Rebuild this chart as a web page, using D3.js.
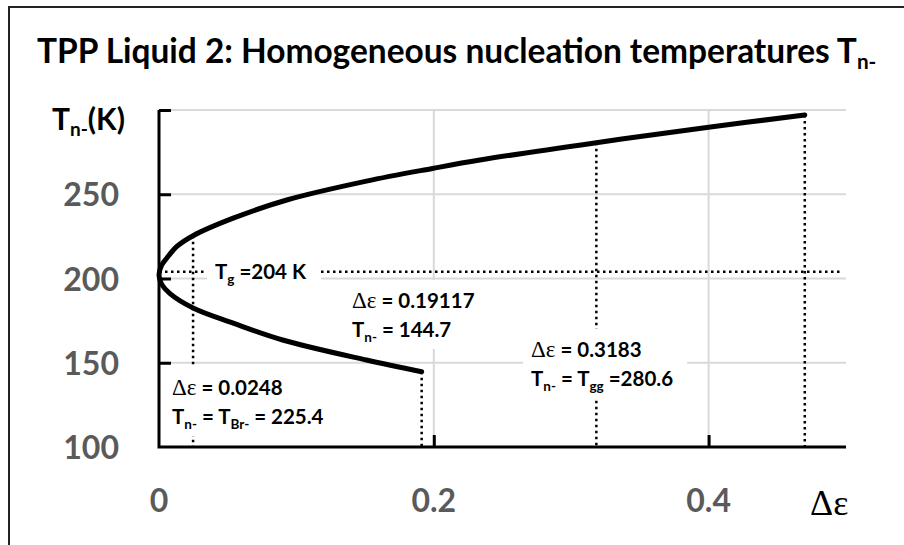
<!DOCTYPE html>
<html>
<head>
<meta charset="utf-8">
<script src="https://cdn.jsdelivr.net/npm/d3@7"></script>
<style>
  body { margin: 0; background: #fff; }
</style>
</head>
<body>
<div id="chart"></div>
<script>
// curve, ordered by temperature (lower branch -> vertex -> upper branch)
const tempK    = [144.7, 151.6, 163.5, 173.5, 182.5, 191, 196.5, 202, 208, 212, 219, 225.4, 235.8, 246.6, 257.8, 265.3, 270.3, 280.6, 289.8, 297];
const deltaEps = [0.19117, 0.151, 0.09, 0.054, 0.0248, 0.008, 0.002, 0, 0.002, 0.0056, 0.013, 0.0248, 0.054, 0.093, 0.151, 0.199, 0.2335, 0.3183, 0.40, 0.47];

// dotted drop lines from the curve to the axis
const markerEps = [0.0248, 0.19117, 0.3183, 0.47];
const markerT   = [225.4, 144.7, 280.6, 297];
const tg = 204;

const yTicks = [100, 150, 200, 250];
const xTicks = [0, 0.2, 0.4];
const yGrid = [150, 200, 250, 300];
const xGrid = [0.2, 0.4];

const sans = "Lato, 'Open Sans', sans-serif";
const serif = "'Liberation Serif', 'DejaVu Serif', serif";

const width = 904, height = 545;
const plot = { left: 159, right: 846, top: 110, bottom: 447 };

const svg = d3.select("#chart")
  .append("svg")
  .attr("width", width)
  .attr("height", height)
  .attr("font-family", sans);

const x = d3.scaleLinear().domain([0, 0.5]).range([plot.left, plot.right]);
const y = d3.scaleLinear().domain([100, 300]).range([plot.bottom, plot.top]);

// frame (top and left edges only)
svg.append("path")
  .attr("d", `M9,${height} L9,7 L${width},7`)
  .attr("fill", "none")
  .attr("stroke", "#222")
  .attr("stroke-width", 2);

// title
const title = svg.append("text")
  .attr("x", 37)
  .attr("y", 63)
  .attr("font-weight", "bold")
  .attr("font-size", 30)
  .attr("fill", "#000");
const titleMain = title.append("tspan").text("TPP Liquid 2: Homogeneous nucleation temperatures T");
const tw = titleMain.node().getComputedTextLength();
const titleSize = 30 * 820 / tw;
title.attr("font-size", titleSize);
title.append("tspan").attr("font-size", titleSize * 0.62).attr("dy", 6).text("n-");

// gridlines
svg.append("g").selectAll("line")
  .data(yGrid)
  .enter().append("line")
  .attr("x1", plot.left).attr("x2", plot.right)
  .attr("y1", d => y(d)).attr("y2", d => y(d))
  .attr("stroke", "#d9d9d9").attr("stroke-width", 2);

svg.append("g").selectAll("line")
  .data(xGrid)
  .enter().append("line")
  .attr("x1", d => x(d)).attr("x2", d => x(d))
  .attr("y1", plot.top).attr("y2", plot.bottom)
  .attr("stroke", "#d9d9d9").attr("stroke-width", 2);

// dotted guide lines
const dots = svg.append("g")
  .attr("stroke", "#000")
  .attr("stroke-width", 2.5)
  .attr("stroke-dasharray", "2.5,3.5");

markerEps.forEach((e, i) => {
  dots.append("line")
    .attr("x1", x(e)).attr("x2", x(e))
    .attr("y1", y(markerT[i])).attr("y2", y(100));
});
dots.append("line")
  .attr("x1", x(0)).attr("x2", 842)
  .attr("y1", y(tg)).attr("y2", y(tg));

// the curve
const line = d3.line()
  .x(d => x(d[0]))
  .y(d => y(d[1]))
  .curve(d3.curveCatmullRom.alpha(0.5));

svg.append("path")
  .datum(deltaEps.map((e, i) => [e, tempK[i]]))
  .attr("d", line)
  .attr("fill", "none")
  .attr("stroke", "#000")
  .attr("stroke-width", 5)
  .attr("stroke-linejoin", "round")
  .attr("stroke-linecap", "round");

// axes with inside ticks
const yAxis = svg.append("g")
  .attr("transform", `translate(${plot.left},0)`)
  .call(d3.axisRight(y).tickValues([150, 200, 250, 300]).tickSize(12).tickFormat(""));
const xAxis = svg.append("g")
  .attr("transform", `translate(0,${plot.bottom})`)
  .call(d3.axisTop(x).tickValues(xGrid).tickSize(12).tickFormat(""));
[yAxis, xAxis].forEach(g => {
  g.select(".domain").remove();
  g.selectAll("line").attr("stroke", "#000").attr("stroke-width", 3);
});
svg.append("path")
  .attr("d", `M${plot.left},${plot.top} L${plot.left},${plot.bottom} L${plot.right},${plot.bottom}`)
  .attr("fill", "none")
  .attr("stroke", "#000")
  .attr("stroke-width", 3);

// tick labels
svg.append("g").selectAll("text")
  .data(yTicks)
  .enter().append("text")
  .attr("x", 119)
  .attr("y", d => y(d) + 12)
  .attr("text-anchor", "end")
  .attr("font-weight", "bold")
  .attr("font-size", 32)
  .attr("fill", "#5a5a5a")
  .text(d => d);

svg.append("g").selectAll("text")
  .data(xTicks)
  .enter().append("text")
  .attr("x", d => x(d))
  .attr("y", 512)
  .attr("text-anchor", "middle")
  .attr("font-weight", "bold")
  .attr("font-size", 32)
  .attr("fill", "#5a5a5a")
  .text(d => d);

// axis titles
const yTitle = svg.append("text")
  .attr("x", 52).attr("y", 130)
  .attr("font-weight", "bold").attr("font-size", 30).attr("fill", "#000");
yTitle.append("tspan").text("T");
yTitle.append("tspan").attr("font-size", 19).attr("dy", 6).text("n-");
yTitle.append("tspan").attr("dy", -6).text("(K)");

svg.append("text")
  .attr("x", 810).attr("y", 515)
  .attr("font-family", serif)
  .attr("font-size", 36)
  .attr("fill", "#000")
  .text("Δε");

// annotation labels: each line is a list of [text, kind] pieces
const labels = [
  { x: 215, y: [279], lines: [[["T", "n"], ["g", "s"], [" =204 K", "n"]]] },
  { x: 352, y: [308, 337], lines: [
      [["Δε", "g"], [" = 0.19117", "n"]],
      [["T", "n"], ["n-", "s"], [" = 144.7", "n"]]] },
  { x: 172, y: [395, 424], lines: [
      [["Δε", "g"], [" = 0.0248", "n"]],
      [["T", "n"], ["n-", "s"], [" = T", "n"], ["Br-", "s"], [" = 225.4", "n"]]] },
  { x: 531, y: [357, 386], lines: [
      [["Δε", "g"], [" = 0.3183", "n"]],
      [["T", "n"], ["n-", "s"], [" = T", "n"], ["gg", "s"], [" =280.6", "n"]]] }
];

labels.forEach(lab => {
  const g = svg.append("g");
  const box = g.append("rect").attr("fill", "#fff");
  lab.lines.forEach((pieces, li) => {
    const t = g.append("text")
      .attr("x", lab.x).attr("y", lab.y[li])
      .attr("font-weight", "bold").attr("font-size", 20.5).attr("fill", "#000");
    let shifted = false;
    pieces.forEach(([s, kind]) => {
      const ts = t.append("tspan").text(s);
      if (kind === "g") {
        ts.attr("font-family", serif)
          .attr("font-weight", "normal").attr("font-size", 23);
      }
      if (kind === "s") {
        ts.attr("font-size", 13.5).attr("dy", 5);
        shifted = true;
      } else if (shifted) {
        ts.attr("dy", -5);
        shifted = false;
      }
    });
  });
  const bb = g.node().getBBox();
  box.attr("x", bb.x - 8).attr("y", bb.y - 8)
    .attr("width", bb.width + 22).attr("height", bb.height + 12);
});
</script>
</body>
</html>
